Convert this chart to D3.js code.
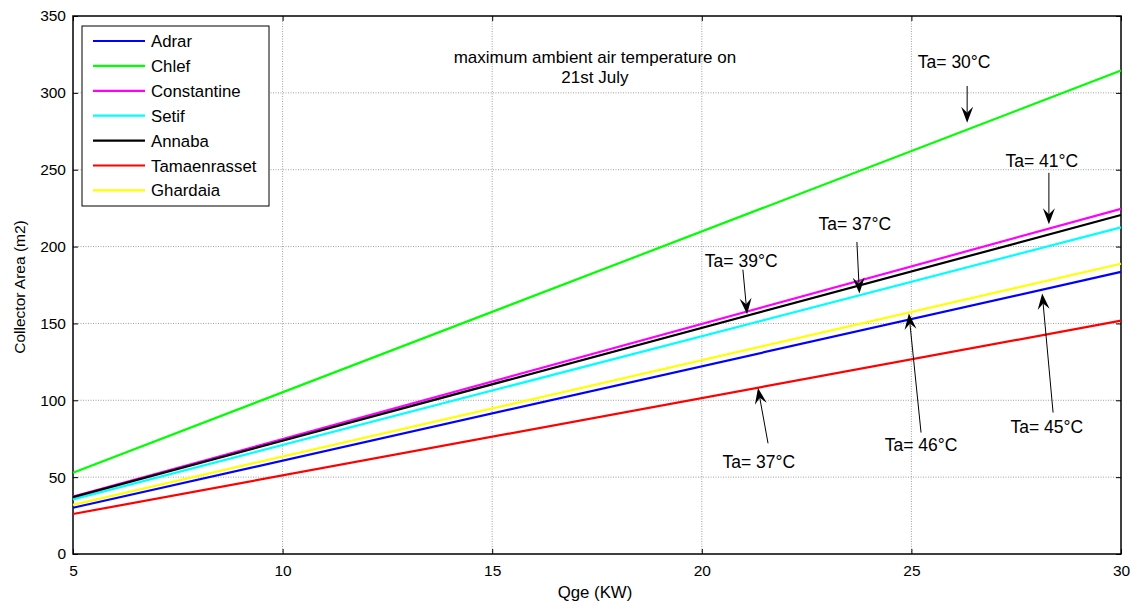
<!DOCTYPE html>
<html lang="en">
<head>
<meta charset="UTF-8">
<script src="https://d3js.org/d3.v7.min.js"></script>
<title>Collector Area</title>
<style>
  body { margin: 0; background: #fff; }
  svg text { font-family: "Liberation Sans", Arial, sans-serif; fill: #000; }
</style>
</head>
<body>
<div id="chart"></div>
<script>
// data (value at Qge = 5 and Qge = 30)
const qge = [5, 30];
const adrar = [30.1, 183.5];
const chlef = [52.9, 314.5];
const constantine = [37.4, 224.5];
const setif = [35.5, 212.5];
const annaba = [37.0, 220.5];
const tamaenrasset = [26.0, 151.8];
const ghardaia = [32.0, 188.8];

const names = ["Adrar", "Chlef", "Constantine", "Setif", "Annaba", "Tamaenrasset", "Ghardaia"];
const colors = ["#0000ff", "#00ff00", "#ff00ff", "#00ffff", "#000000", "#ff0000", "#ffff00"];
const values = [adrar, chlef, constantine, setif, annaba, tamaenrasset, ghardaia];

const xTicks = [5, 10, 15, 20, 25, 30];
const yTicks = [0, 50, 100, 150, 200, 250, 300, 350];

// annotations: label position, arrow tail and tip in data units
const notes = [
  { text: "Ta= 30°C", lx: 26.02, ly: 316, tail: [26.33, 304.5], tip: [26.33, 280.5] },
  { text: "Ta= 41°C", lx: 28.11, ly: 252, tail: [28.28, 248], tip: [28.28, 214.5] },
  { text: "Ta= 37°C", lx: 23.65, ly: 211, tail: [23.70, 203], tip: [23.76, 169.5] },
  { text: "Ta= 39°C", lx: 20.94, ly: 187, tail: [20.98, 185], tip: [21.08, 156] },
  { text: "Ta= 37°C", lx: 21.36, ly: 56, tail: [21.58, 72], tip: [21.34, 108] },
  { text: "Ta= 46°C", lx: 25.23, ly: 67, tail: [25.23, 79], tip: [24.94, 156.5] },
  { text: "Ta= 45°C", lx: 28.23, ly: 79, tail: [28.38, 92], tip: [28.12, 169.5] }
];

const width = 1131, height = 602;
const margin = { top: 16, right: 10, bottom: 48, left: 73 };
const innerW = width - margin.left - margin.right;
const innerH = height - margin.top - margin.bottom;

const svg = d3.select("#chart").append("svg")
  .attr("width", width).attr("height", height);

const g = svg.append("g").attr("transform", `translate(${margin.left},${margin.top})`);

const x = d3.scaleLinear().domain([5, 30]).range([0, innerW]);
const y = d3.scaleLinear().domain([0, 350]).range([innerH, 0]);

// grid
g.selectAll(".vgrid").data(xTicks.slice(1, -1)).enter().append("line")
  .attr("x1", d => x(d)).attr("x2", d => x(d))
  .attr("y1", 0).attr("y2", innerH)
  .attr("stroke", "#888").attr("stroke-width", 0.8).attr("stroke-dasharray", "1,1.5");
g.selectAll(".hgrid").data(yTicks.slice(1, -1)).enter().append("line")
  .attr("x1", 0).attr("x2", innerW)
  .attr("y1", d => y(d)).attr("y2", d => y(d))
  .attr("stroke", "#888").attr("stroke-width", 0.8).attr("stroke-dasharray", "1,1.5");

// axes with inward ticks
g.append("g").attr("transform", `translate(0,${innerH})`)
  .call(d3.axisBottom(x).tickValues(xTicks).tickSize(-5).tickPadding(11));
g.append("g")
  .call(d3.axisLeft(y).tickValues(yTicks).tickSize(-5).tickPadding(7));
g.append("g").call(d3.axisTop(x).tickValues(xTicks).tickSize(-5).tickFormat(""));
g.append("g").attr("transform", `translate(${innerW},0)`)
  .call(d3.axisRight(y).tickValues(yTicks).tickSize(-5).tickFormat(""));
g.selectAll(".domain").remove();
g.selectAll(".tick line").attr("stroke", "#000");
g.selectAll(".tick text").style("font-size", "15.5px").attr("fill", "#000");

g.append("rect").attr("width", innerW).attr("height", innerH)
  .attr("fill", "none").attr("stroke", "#000").attr("stroke-width", 1.5);

// series lines
const line = d3.line().x((d, i) => x(qge[i])).y(d => y(d));
values.forEach((v, i) => {
  g.append("path").datum(v)
    .attr("d", line)
    .attr("fill", "none")
    .attr("stroke", colors[i])
    .attr("stroke-width", 2.2);
});

// title text inside plot
g.append("text").attr("x", x(17.45)).attr("y", y(319.5))
  .attr("text-anchor", "middle").style("font-size", "17px")
  .text("maximum ambient air temperature on");
g.append("text").attr("x", x(17.45)).attr("y", y(306.5))
  .attr("text-anchor", "middle").style("font-size", "17px")
  .text("21st July");

// annotations
notes.forEach(n => {
  g.append("text").attr("x", x(n.lx)).attr("y", y(n.ly))
    .attr("text-anchor", "middle").style("font-size", "17.5px").text(n.text);
  const x0 = x(n.tail[0]), y0 = y(n.tail[1]);
  const x1 = x(n.tip[0]), y1 = y(n.tip[1]);
  const ang = Math.atan2(y1 - y0, x1 - x0);
  const L = 16, W = 6, back = 10;
  const ux = Math.cos(ang), uy = Math.sin(ang);
  const px = -uy, py = ux;
  g.append("line").attr("x1", x0).attr("y1", y0)
    .attr("x2", x1 - ux * back).attr("y2", y1 - uy * back)
    .attr("stroke", "#000").attr("stroke-width", 1);
  const pts = [
    [x1, y1],
    [x1 - ux * L + px * W, y1 - uy * L + py * W],
    [x1 - ux * back, y1 - uy * back],
    [x1 - ux * L - px * W, y1 - uy * L - py * W]
  ];
  g.append("path").attr("d", "M" + pts.map(p => p.join(",")).join("L") + "Z")
    .attr("fill", "#000");
});

// legend
const legend = svg.append("g").attr("transform", "translate(82,26)");
legend.append("rect").attr("width", 187).attr("height", 180)
  .attr("fill", "#fff").attr("stroke", "#000").attr("stroke-width", 1);
names.forEach((nm, i) => {
  const ly = 15 + i * 24.9;
  legend.append("line").attr("x1", 11).attr("x2", 63)
    .attr("y1", ly).attr("y2", ly)
    .attr("stroke", colors[i]).attr("stroke-width", 2.2);
  legend.append("text").attr("x", 69).attr("y", ly + 6)
    .style("font-size", "16.8px").text(nm);
});

// axis labels
svg.append("text").attr("x", 595).attr("y", 598)
  .attr("text-anchor", "middle").style("font-size", "16.8px").text("Qge (KW)");
svg.append("text")
  .attr("transform", `translate(25,287) rotate(-90)`)
  .attr("text-anchor", "middle").style("font-size", "15.5px").text("Collector Area (m2)");
</script>
</body>
</html>
